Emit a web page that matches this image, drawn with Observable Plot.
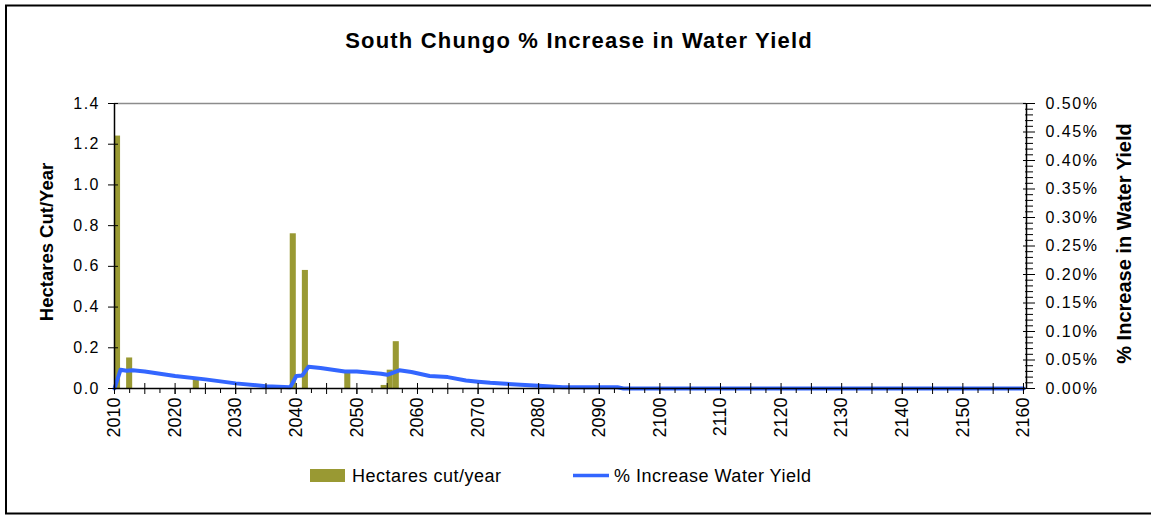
<!DOCTYPE html>
<html>
<head>
<meta charset="utf-8">
<script src="https://cdn.jsdelivr.net/npm/d3@7"></script>
<script src="https://cdn.jsdelivr.net/npm/@observablehq/plot@0.6"></script>
<style>
  body { margin: 0; background: #fff; }
  #wrap { position: relative; width: 1151px; height: 515px; overflow: hidden; background: #fff;
          font-family: "Liberation Sans", Arial, sans-serif; }
  #wrap svg { position: absolute; left: 0; top: 0; }
  #wrap g[aria-label="y-axis tick label"] text { letter-spacing: 1.5px; }
</style>
</head>
<body>
<div id="wrap"></div>
<script>
// ---- data ----
const barYears  = [2010, 2012, 2023, 2039, 2041, 2048, 2054, 2055, 2056];
const barValues = [1.24, 0.15, 0.05, 0.76, 0.58, 0.08, 0.015, 0.09, 0.23];

const lineYears = [2010, 2011, 2012, 2013, 2015, 2020, 2025, 2030, 2035, 2039, 2040, 2041, 2042, 2044,
                   2048, 2050, 2054, 2055, 2057, 2059, 2062, 2065, 2068, 2070, 2072, 2077, 2080, 2084,
                   2093, 2094, 2160];
const linePct   = [0, 0.033, 0.031, 0.032, 0.030, 0.022, 0.016, 0.009, 0.004, 0.002, 0.022, 0.023, 0.038, 0.036,
                   0.030, 0.030, 0.026, 0.024, 0.032, 0.029, 0.022, 0.020, 0.014, 0.012, 0.010, 0.0065, 0.0047, 0.0023,
                   0.0023, 0, 0];   // % increase in water yield

const xLabelYears = d3.range(2010, 2161, 10);
const xMajorTicks = d3.range(2010, 2161, 5);
const xMinorTicks = d3.range(2012.5, 2160, 5);
const leftTicks   = [0, 0.2, 0.4, 0.6, 0.8, 1.0, 1.2, 1.4];
const rightTicks  = [0, 0.05, 0.10, 0.15, 0.20, 0.25, 0.30, 0.35, 0.40, 0.45, 0.50];   // percent
const rightMinor  = d3.range(0, 51).map(i => i / 100).filter(v => Math.round(v * 100) % 5 !== 0);

const title      = "South Chungo % Increase in Water Yield";
const leftTitle  = "Hectares Cut/Year";
const rightTitle = "% Increase in Water Yield";
const legendBar  = "Hectares cut/year";
const legendLine = "% Increase Water Yield";

// ---- derived tables ----
const xDomain = [2010, 2160.5];
const yMax = 1.4, pMax = 0.5;
const toLeft = p => p / pMax * yMax;
const bars = barYears.map((y, i) => ({year: y, value: barValues[i]}));
const line = lineYears.map((y, i) => ({year: y, pct: linePct[i]}));

const OLIVE = "#999933", BLUE = "#3366ff";

const chart = Plot.plot({
  width: 1151, height: 515,
  marginLeft: 114, marginRight: 125, marginTop: 103, marginBottom: 127,
  style: {fontFamily: "'Liberation Sans', Arial, sans-serif", fontSize: "16px", color: "#000", background: "transparent"},
  x: {type: "linear", domain: xDomain},
  y: {domain: [0, yMax]},
  marks: [
    Plot.ruleY([yMax], {stroke: "#8c8c8c", strokeWidth: 1.5}),
    Plot.rectY(bars, {x1: "year", x2: d => d.year + 1, y: "value", fill: OLIVE}),
    Plot.line(line, {x: "year", y: d => toLeft(d.pct), stroke: BLUE, strokeWidth: 4, strokeLinejoin: "round"}),
    Plot.ruleX([xDomain[0]], {stroke: "#000", strokeWidth: 1.5}),
    Plot.ruleX([xDomain[1]], {stroke: "#000", strokeWidth: 1.5}),
    Plot.ruleY([0], {stroke: "#000", strokeWidth: 1.5}),
    // x axis
    Plot.axisX({ticks: xMajorTicks, tickSize: 6, tickFormat: () => "", label: null}),
    Plot.axisX({ticks: xMajorTicks, tickSize: -5, tickFormat: () => "", label: null}),
    Plot.axisX({ticks: xMinorTicks, tickSize: 5, tickFormat: () => "", label: null}),
    Plot.axisX({ticks: xLabelYears, tickSize: 6, tickPadding: 3, tickRotate: -90, tickFormat: d => String(d),
                fontSize: 18, label: null}),
    // left axis
    Plot.axisY({anchor: "left", ticks: leftTicks, tickSize: 6, tickPadding: 8.5, tickFormat: d3.format(".1f"), label: null}),
    Plot.axisY({anchor: "left", ticks: leftTicks, tickSize: -4, tickFormat: () => "", label: null}),
    // right axis
    Plot.axisY({anchor: "right", ticks: rightTicks.map(toLeft), tickSize: 8, tickPadding: 11,
                tickFormat: d => (d / yMax * pMax).toFixed(2) + "%", label: null}),
    Plot.axisY({anchor: "right", ticks: rightTicks.map(toLeft), tickSize: -4, tickFormat: () => "", label: null}),
    Plot.axisY({anchor: "right", ticks: rightMinor.map(toLeft), tickSize: 6, tickFormat: () => "", label: null}),
    Plot.axisY({anchor: "right", ticks: rightMinor.map(toLeft), tickSize: -2, tickFormat: () => "", label: null}),
    // axis titles
    Plot.text([leftTitle], {text: d => d, frameAnchor: "left", textAnchor: "middle", lineAnchor: "middle",
                            dx: -67, dy: -4, rotate: -90, fontWeight: "bold", fontSize: 18.5, fill: "#000"}),
    Plot.text([rightTitle], {text: d => d, frameAnchor: "right", textAnchor: "middle", lineAnchor: "middle",
                             dx: 98.5, dy: -2.5, rotate: -90, fontWeight: "bold", fontSize: 20, fill: "#000"})
  ]
});

const wrap = document.getElementById("wrap");
wrap.appendChild(chart);

// overlay: border, title, legend
const ov = d3.select(wrap).append("svg").attr("width", 1151).attr("height", 515)
  .style("font-family", "'Liberation Sans', Arial, sans-serif");
ov.append("rect").attr("x", 6).attr("y", 5.5).attr("width", 1146).attr("height", 508)
  .attr("fill", "none").attr("stroke", "#000").attr("stroke-width", 2);
ov.append("text").attr("x", 579).attr("y", 48).attr("text-anchor", "middle")
  .attr("font-size", 22).attr("font-weight", "bold").attr("letter-spacing", "1.2px").text(title);
const lg = ov.append("g");
lg.append("rect").attr("x", 310).attr("y", 469).attr("width", 35).attr("height", 13).attr("fill", OLIVE);
lg.append("text").attr("x", 352).attr("y", 482).attr("font-size", 18).attr("letter-spacing", "0.5px").text(legendBar);
lg.append("line").attr("x1", 573).attr("x2", 609).attr("y1", 475.5).attr("y2", 475.5)
  .attr("stroke", BLUE).attr("stroke-width", 3.5);
lg.append("text").attr("x", 614).attr("y", 482).attr("font-size", 18).attr("letter-spacing", "0.5px").text(legendLine);
</script>
</body>
</html>
